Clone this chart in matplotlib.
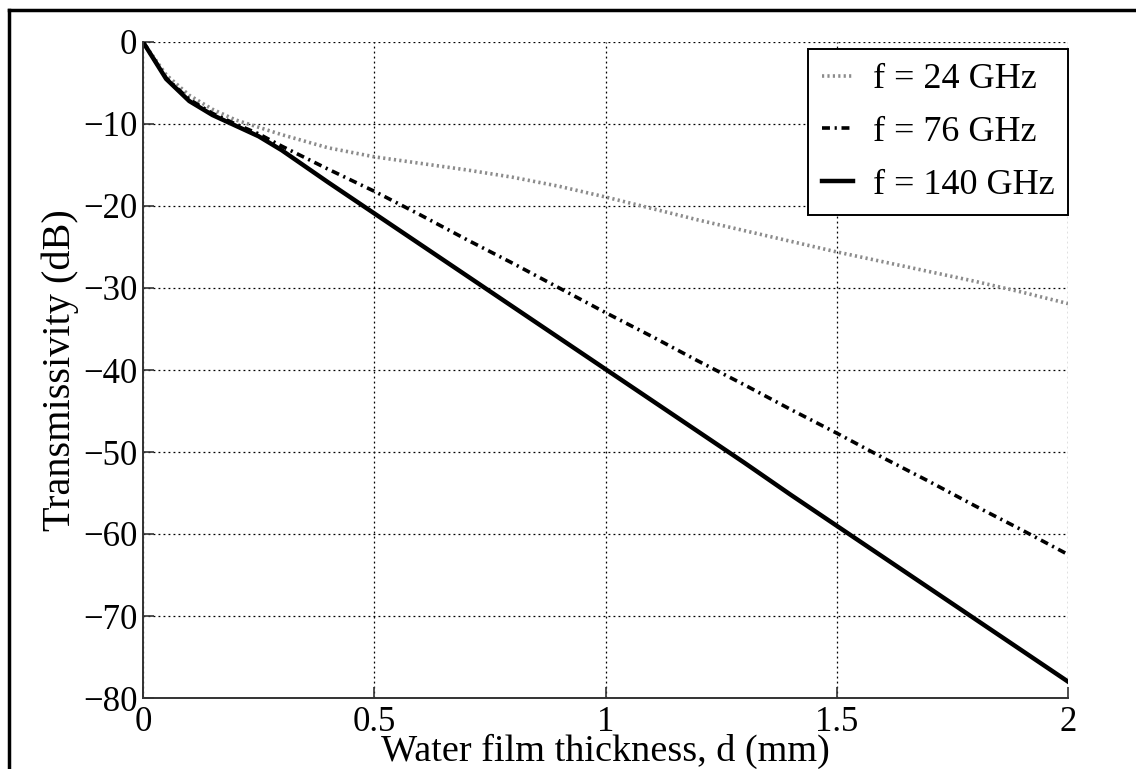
import numpy as np
import matplotlib
matplotlib.use("Agg")
import matplotlib.pyplot as plt
from matplotlib.lines import Line2D

# film thickness (mm)
d = [0.0, 0.05, 0.1, 0.15, 0.2, 0.25, 0.3, 0.4, 0.5, 0.6, 0.7, 0.8, 0.9,
     1.0, 1.1, 1.2, 1.3, 1.4, 1.5, 1.6, 1.7, 1.8, 1.9, 2.0]

# transmissivity (dB)
t_24 = [0.0, -4.0, -6.5, -8.2, -9.5, -10.4, -11.3, -12.9, -14.0, -14.8, -15.6,
        -16.5, -17.6, -18.9, -20.3, -21.7, -23.0, -24.3, -25.6, -26.8, -28.0,
        -29.2, -30.5, -31.9]
t_76 = [0.0, -4.4, -7.0, -8.7, -10.0, -11.2, -12.7, -15.5, -18.2, -21.1, -24.1,
        -27.0, -30.0, -33.0, -35.9, -38.9, -41.8, -44.8, -47.7, -50.7, -53.6,
        -56.6, -59.5, -62.5]
t_140 = [0.0, -4.5, -7.2, -8.9, -10.2, -11.5, -13.2, -17.1, -20.9, -24.7, -28.5,
         -32.3, -36.1, -39.9, -43.7, -47.5, -51.3, -55.2, -59.0, -62.8, -66.6,
         -70.4, -74.2, -78.0]

labels = ["f = 24 GHz", "f = 76 GHz", "f = 140 GHz"]
xticks = [0, 0.5, 1, 1.5, 2]
xtick_labels = ["0", "0.5", "1", "1.5", "2"]
yticks = [0, -10, -20, -30, -40, -50, -60, -70, -80]

plt.rcParams["font.family"] = ["Liberation Serif", "DejaVu Serif"]

fig = plt.figure(figsize=(11.36, 7.69), dpi=100)
ax = fig.add_axes([143 / 1136, 1 - 698 / 769, (1068 - 143) / 1136, (698 - 42) / 769])

ax.plot(d, t_24, color="#8c8c8c", lw=2.6, linestyle=(0, (0.6, 0.9)), label=labels[0])
ax.plot(d, t_76, color="black", lw=2.6, linestyle=(0, (2.2, 1.3, 0.6, 1.3)), label=labels[1])
ax.plot(d, t_140, color="black", lw=3.2, linestyle="-", label=labels[2])

ax.set_xlim(0, 2)
ax.set_ylim(-80, 0)
ax.set_xticks(xticks)
ax.set_xticklabels(xtick_labels)
ax.set_yticks(yticks)

ax.grid(True, color="black", lw=0.9, linestyle=(0, (1.5, 2.5)))
for side in ["top", "right"]:
    ax.spines[side].set_visible(False)
for side in ["left", "bottom"]:
    ax.spines[side].set_linewidth(1.4)
    ax.spines[side].set_color("#333333")

ax.tick_params(direction="in", length=8, width=1.2, color="#333333", labelsize=25)
ax.tick_params(axis="x", pad=6)
ax.tick_params(axis="y", pad=4)

ax.set_xlabel("Water film thickness, d (mm)", fontsize=27.5, labelpad=-4)
ax.set_ylabel("Transmissivity (dB)", fontsize=29, labelpad=3)

leg = ax.legend(loc="upper right", bbox_to_anchor=(1.0, 0.989), fontsize=26,
                fancybox=False, framealpha=1, edgecolor="black",
                handlelength=0.85, handletextpad=0.55, borderpad=0.38,
                labelspacing=0.54, borderaxespad=0)
leg.get_frame().set_linewidth(1.4)

# outer frame of the original figure (only top and left visible)
fig.add_artist(Line2D([9 / 1136, 1.0], [1 - 10 / 769, 1 - 10 / 769], color="black", lw=2.5,
                      transform=fig.transFigure))
fig.add_artist(Line2D([9 / 1136, 9 / 1136], [0, 1 - 10 / 769], color="black", lw=2.5,
                      transform=fig.transFigure))

fig.savefig("out.png", dpi=100)
